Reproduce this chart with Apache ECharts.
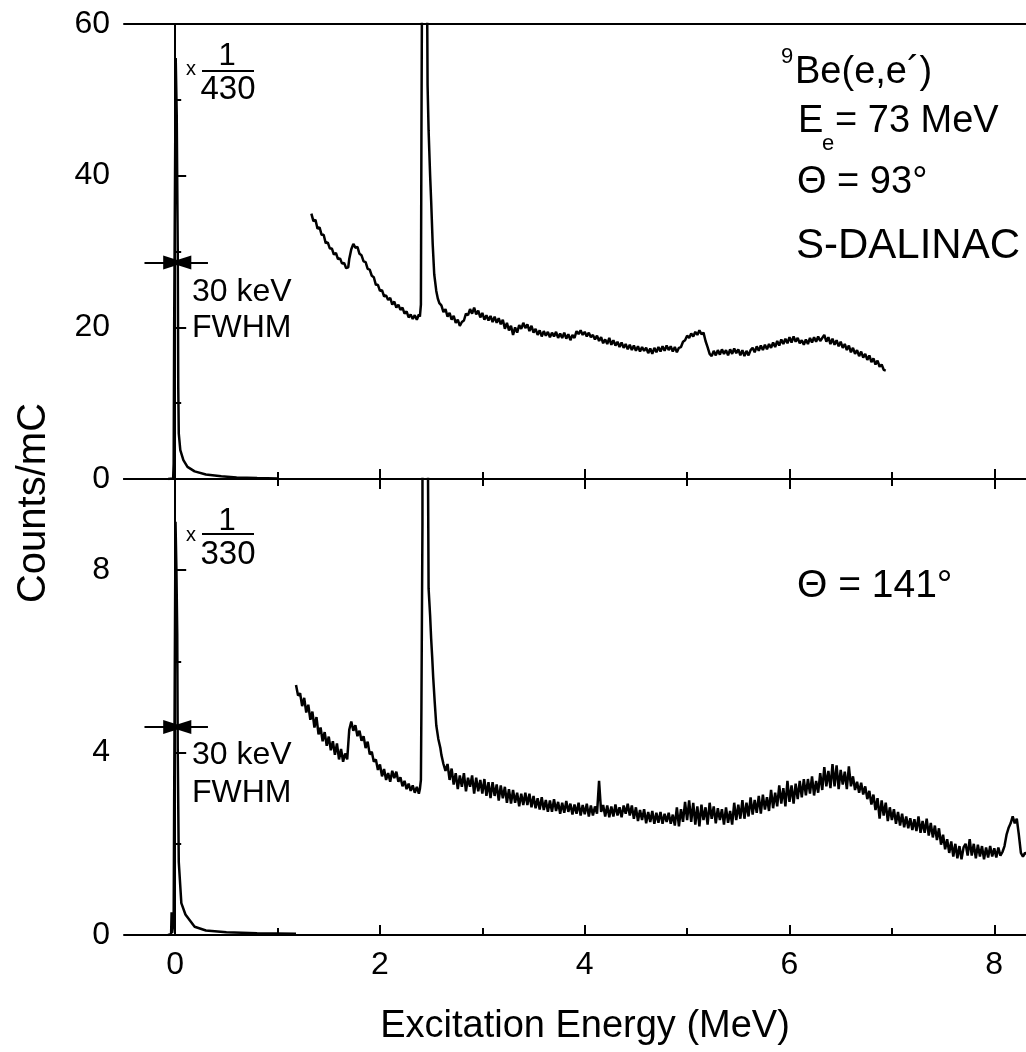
<!DOCTYPE html>
<html><head><meta charset="utf-8">
<script src="https://cdn.jsdelivr.net/npm/echarts@6/dist/echarts.min.js"></script>
<style>html,body{margin:0;padding:0;background:#fff}#c{width:1026px;height:1052px}</style>
</head><body><div id="c"></div>
<script>
// ---- data (Excitation energy MeV, Counts/mC) ----
const xMajorTicks = [0, 2, 4, 6, 8];
const xMinorTicks = [1, 3, 5, 7];
const yTopTicks = [0, 20, 40, 60];
const yBotTicks = [0, 4, 8];
const yBotMinor = [2, 6];

// elastic peak (scaled x 1/430), theta = 93 deg
const topPeak = [[-0.07,0],[-0.02,0.05],[-0.015,2],[-0.01,20],[0.005,55.5],[0.015,48],[0.025,30],[0.03,12],[0.035,6],[0.05,3.8],[0.08,2.5],[0.12,1.6],[0.19,1.0],[0.3,0.6],[0.45,0.35],[0.6,0.2],[0.8,0.12],[1.0,0.08]];

const topSpectrum = [[1.33,35.0],[1.35,34.0],[1.37,34.2],[1.39,33.0],[1.41,33.2],[1.43,32.2],[1.45,32.2],[1.47,31.1],[1.49,31.2],[1.51,30.4],[1.53,30.4],[1.55,29.6],[1.57,29.8],[1.59,29.0],[1.61,29.1],[1.63,28.4],[1.65,28.5],[1.67,27.8],[1.69,27.9],[1.70,29.0],[1.72,30.3],[1.74,31.0],[1.76,30.5],[1.78,30.6],[1.80,29.7],[1.82,29.5],[1.84,28.7],[1.86,28.6],[1.88,27.7],[1.90,27.6],[1.92,26.8],[1.94,26.6],[1.96,25.6],[1.98,25.6],[2.00,24.8],[2.02,24.9],[2.04,24.1],[2.06,24.2],[2.08,23.6],[2.10,23.9],[2.12,23.0],[2.14,23.4],[2.16,22.6],[2.18,23.0],[2.20,22.3],[2.22,22.6],[2.24,21.8],[2.26,22.1],[2.28,21.3],[2.30,21.7],[2.32,21.1],[2.34,21.6],[2.36,21.0],[2.38,21.7],[2.39,21.4],
[2.40,23],[2.405,45],[2.415,80],[2.43,300],[2.45,150],[2.458,70],[2.465,52],[2.475,46],[2.49,40],[2.50,36.7],[2.515,31],[2.53,27],[2.55,24.8],[2.565,23.8],[2.58,23.2],
[2.60,22.9],[2.62,22.0],[2.64,22.4],[2.66,21.4],[2.68,21.9],[2.70,21.0],[2.72,21.5],[2.74,20.6],[2.76,21.0],[2.78,20.2],[2.80,20.7],[2.82,20.9],[2.84,21.8],[2.86,21.6],[2.88,22.4],[2.90,21.8],[2.92,22.6],[2.94,21.7],[2.96,22.2],[2.98,21.3],[3.00,21.9],[3.02,21.0],[3.04,21.6],[3.06,20.9],[3.08,21.5],[3.10,20.7],[3.12,21.4],[3.14,20.6],[3.16,21.2],[3.18,20.4],[3.20,21.0],[3.22,19.8],[3.24,20.6],[3.26,19.6],[3.28,20.2],[3.30,19.0],[3.32,20.0],[3.34,19.3],[3.36,20.3],[3.38,19.8],[3.40,20.6],[3.42,19.9],[3.44,20.4],[3.46,19.5],[3.48,20.2],[3.50,19.3],[3.52,19.8],[3.54,19.0],[3.56,19.6],[3.58,18.8],[3.60,19.5],[3.62,18.9],[3.64,19.4],[3.66,18.7],[3.68,19.3],[3.70,18.8],[3.72,19.4],[3.74,18.6],[3.76,19.2],[3.78,18.6],[3.80,19.3],[3.82,18.5],[3.84,19.1],[3.86,18.3],[3.88,19.0],[3.90,18.6],[3.92,19.5],[3.94,19.1],[3.96,19.6],[3.98,19.0],[4.00,19.4],[4.02,18.8],[4.04,19.3],[4.06,18.7],[4.08,19.0],[4.10,18.4],[4.12,18.9],[4.14,18.2],[4.16,18.7],[4.18,17.9],[4.20,18.4],[4.22,17.8],[4.24,18.6],[4.26,17.7],[4.28,18.3],[4.30,17.6],[4.32,18.1],[4.34,17.4],[4.36,18.0],[4.38,17.3],[4.40,17.8],[4.42,17.1],[4.44,17.7],[4.46,17.0],[4.48,17.6],[4.50,16.9],[4.52,17.5],[4.54,16.8],[4.56,17.4],[4.58,16.9],[4.60,17.3],[4.62,16.6],[4.64,17.2],[4.66,16.5],[4.68,17.3],[4.70,16.7],[4.72,17.4],[4.74,16.8],[4.76,17.5],[4.78,16.9],[4.80,17.6],[4.82,17.0],[4.84,17.5],[4.86,16.8],[4.88,17.4],[4.90,16.7],[4.92,17.3],[4.94,17.4],[4.96,18.1],[4.98,18.3],[5.00,18.9],[5.02,18.6],[5.04,19.2],[5.06,18.8],[5.08,19.4],[5.10,19.0],[5.12,19.6],[5.14,19.1],[5.16,19.3],[5.18,18.2],[5.20,17.4],[5.22,16.5],[5.24,16.2],[5.26,16.9],[5.28,16.3],[5.30,17.0],[5.32,16.4],[5.34,17.1],[5.36,16.5],[5.38,17.0],[5.40,16.3],[5.42,17.1],[5.44,16.5],[5.46,17.2],[5.48,16.6],[5.50,17.1],[5.52,16.3],[5.54,17.0],[5.56,16.2],[5.58,16.9],[5.60,16.3],[5.62,17.0],[5.64,17.3],[5.66,16.7],[5.68,17.5],[5.70,16.9],[5.72,17.6],[5.74,17.0],[5.76,17.7],[5.78,17.1],[5.80,17.8],[5.82,17.3],[5.84,18.0],[5.86,17.4],[5.88,18.2],[5.90,17.6],[5.92,18.4],[5.94,17.8],[5.96,18.5],[5.98,17.9],[6.00,18.7],[6.02,18.0],[6.04,18.8],[6.06,18.1],[6.08,18.6],[6.10,17.9],[6.12,18.3],[6.14,17.7],[6.16,18.4],[6.18,17.8],[6.20,18.6],[6.22,18.0],[6.24,18.7],[6.26,18.1],[6.28,18.8],[6.30,18.2],[6.32,18.6],[6.34,19.0],[6.36,18.1],[6.38,18.7],[6.40,17.8],[6.42,18.5],[6.44,17.7],[6.46,18.3],[6.48,17.5],[6.50,18.1],[6.52,17.3],[6.54,17.8],[6.56,17.0],[6.58,17.6],[6.60,16.7],[6.62,17.3],[6.64,16.5],[6.66,17.0],[6.68,16.2],[6.70,16.8],[6.72,16.0],[6.74,16.5],[6.76,15.7],[6.78,16.3],[6.80,15.4],[6.82,15.9],[6.84,15.1],[6.86,15.6],[6.88,14.8],[6.90,15.1],[6.92,14.4],[6.94,14.3]];

// elastic peak (scaled x 1/330), theta = 141 deg
const botPeak = [[-0.07,0],[-0.04,0.02],[-0.035,0.5],[-0.03,0.05],[-0.015,0.3],[-0.01,3],[0.003,9.06],[0.012,8],[0.02,6.6],[0.025,4],[0.035,1.6],[0.06,0.7],[0.1,0.45],[0.19,0.18],[0.3,0.1],[0.5,0.06],[0.8,0.04],[1.18,0.03]];

const botSpectrum = [[1.18,5.48],[1.20,5.25],[1.22,5.3],[1.24,5.02],[1.26,5.2],[1.28,4.88],[1.30,5.05],[1.32,4.72],[1.34,4.9],[1.36,4.55],[1.38,4.78],[1.40,4.4],[1.42,4.55],[1.44,4.25],[1.46,4.45],[1.48,4.15],[1.50,4.35],[1.52,4.05],[1.54,4.25],[1.56,3.95],[1.58,4.2],[1.60,3.85],[1.62,4.08],[1.64,3.8],[1.66,3.98],[1.68,3.85],[1.70,4.5],[1.72,4.68],[1.74,4.48],[1.76,4.6],[1.78,4.36],[1.80,4.48],[1.82,4.26],[1.84,4.36],[1.86,4.1],[1.88,4.24],[1.90,3.96],[1.92,4.02],[1.94,3.8],[1.96,3.85],[1.98,3.62],[2.00,3.74],[2.02,3.48],[2.04,3.64],[2.06,3.4],[2.08,3.55],[2.10,3.36],[2.12,3.6],[2.14,3.44],[2.16,3.58],[2.18,3.36],[2.20,3.46],[2.22,3.26],[2.24,3.38],[2.26,3.2],[2.28,3.32],[2.30,3.16],[2.32,3.28],[2.34,3.12],[2.36,3.25],[2.38,3.1],[2.39,3.2],
[2.40,3.4],[2.405,5.0],[2.415,9],[2.43,60],[2.45,30],[2.465,12],[2.475,7.6],[2.49,7.0],[2.50,6.5],[2.51,6.1],[2.52,5.65],[2.535,5.1],[2.55,4.6],[2.57,4.3],[2.59,4.1],
[2.60,3.95],[2.62,3.75],[2.64,3.6],[2.66,3.75],[2.68,3.4],[2.70,3.65],[2.72,3.3],[2.74,3.55],[2.76,3.2],[2.78,3.5],[2.80,3.25],[2.82,3.55],[2.84,3.15],[2.86,3.45],[2.88,3.25],[2.90,3.5],[2.92,3.1],[2.94,3.45],[2.96,3.15],[2.98,3.4],[3.00,3.1],[3.02,3.42],[3.04,3.05],[3.06,3.35],[3.08,3.0],[3.10,3.35],[3.12,3.05],[3.14,3.3],[3.16,2.95],[3.18,3.28],[3.20,3.0],[3.22,3.25],[3.24,2.9],[3.26,3.2],[3.28,2.88],[3.30,3.18],[3.32,2.9],[3.34,3.12],[3.36,2.82],[3.38,3.1],[3.40,2.85],[3.42,3.12],[3.44,2.85],[3.46,3.1],[3.48,2.8],[3.50,3.05],[3.52,2.78],[3.54,3.0],[3.56,2.75],[3.58,3.02],[3.60,2.74],[3.62,2.96],[3.64,2.7],[3.66,2.95],[3.68,2.7],[3.70,2.98],[3.72,2.72],[3.74,2.92],[3.76,2.66],[3.78,2.9],[3.80,2.68],[3.82,2.94],[3.84,2.7],[3.86,2.88],[3.88,2.64],[3.90,2.86],[3.92,2.66],[3.94,2.9],[3.96,2.62],[3.98,2.85],[4.00,2.65],[4.02,2.88],[4.04,2.6],[4.06,2.84],[4.08,2.62],[4.10,2.82],[4.12,2.66],[4.14,3.38],[4.16,2.7],[4.18,2.85],[4.20,2.6],[4.22,2.84],[4.24,2.58],[4.26,2.82],[4.28,2.6],[4.30,2.86],[4.32,2.62],[4.34,2.8],[4.36,2.58],[4.38,2.84],[4.40,2.66],[4.42,2.88],[4.44,2.62],[4.46,2.84],[4.48,2.55],[4.50,2.8],[4.52,2.5],[4.54,2.74],[4.56,2.52],[4.58,2.76],[4.60,2.45],[4.62,2.7],[4.64,2.48],[4.66,2.72],[4.68,2.44],[4.70,2.68],[4.72,2.46],[4.74,2.7],[4.76,2.44],[4.78,2.66],[4.80,2.48],[4.82,2.68],[4.84,2.44],[4.86,2.64],[4.88,2.4],[4.90,2.8],[4.92,2.38],[4.94,2.76],[4.96,2.48],[4.98,2.92],[5.00,2.52],[5.02,2.95],[5.04,2.48],[5.06,2.9],[5.08,2.42],[5.10,2.82],[5.12,2.38],[5.14,2.86],[5.16,2.52],[5.18,2.8],[5.20,2.42],[5.22,2.9],[5.24,2.55],[5.26,2.82],[5.28,2.45],[5.30,2.78],[5.32,2.52],[5.34,2.76],[5.36,2.42],[5.38,2.8],[5.40,2.46],[5.42,2.72],[5.44,2.42],[5.46,2.9],[5.48,2.52],[5.50,2.86],[5.52,2.55],[5.54,2.96],[5.56,2.55],[5.58,2.9],[5.60,2.6],[5.62,3.02],[5.64,2.64],[5.66,2.96],[5.68,2.68],[5.70,3.05],[5.72,2.66],[5.74,3.08],[5.76,2.75],[5.78,3.02],[5.80,2.72],[5.82,3.18],[5.84,2.78],[5.86,3.12],[5.88,2.82],[5.90,3.28],[5.92,2.88],[5.94,3.22],[5.96,2.82],[5.98,3.38],[6.00,2.92],[6.02,3.28],[6.04,2.88],[6.06,3.32],[6.08,2.98],[6.10,3.38],[6.12,3.02],[6.14,3.42],[6.16,3.06],[6.18,3.42],[6.20,3.1],[6.22,3.48],[6.24,3.06],[6.26,3.38],[6.28,3.12],[6.30,3.55],[6.32,3.18],[6.34,3.68],[6.36,3.26],[6.38,3.6],[6.40,3.22],[6.42,3.75],[6.44,3.26],[6.46,3.72],[6.48,3.2],[6.50,3.62],[6.52,3.3],[6.54,3.58],[6.56,3.2],[6.58,3.7],[6.60,3.26],[6.62,3.48],[6.64,3.18],[6.66,3.36],[6.68,3.12],[6.70,3.34],[6.72,3.08],[6.74,3.26],[6.76,2.98],[6.78,3.16],[6.80,2.86],[6.82,3.08],[6.84,2.74],[6.86,3.0],[6.88,2.55],[6.90,2.95],[6.92,2.62],[6.94,2.9],[6.96,2.5],[6.98,2.8],[7.00,2.52],[7.02,2.76],[7.04,2.44],[7.06,2.7],[7.08,2.4],[7.10,2.66],[7.12,2.36],[7.14,2.6],[7.16,2.34],[7.18,2.56],[7.20,2.3],[7.22,2.54],[7.24,2.28],[7.26,2.6],[7.28,2.24],[7.30,2.5],[7.32,2.24],[7.34,2.55],[7.36,2.18],[7.38,2.46],[7.40,2.14],[7.42,2.4],[7.44,2.08],[7.46,2.34],[7.48,1.98],[7.50,2.2],[7.52,1.88],[7.54,2.1],[7.56,1.8],[7.58,2.05],[7.60,1.72],[7.62,2.0],[7.64,1.68],[7.66,1.95],[7.68,1.66],[7.70,1.92],[7.72,2.0],[7.74,1.74],[7.76,2.1],[7.78,1.74],[7.80,2.0],[7.82,1.68],[7.84,1.98],[7.86,1.72],[7.88,1.95],[7.90,1.66],[7.92,1.92],[7.94,1.7],[7.96,1.95],[7.98,1.72],[8.00,1.9],[8.02,1.7],[8.04,1.92],[8.06,1.74],[8.08,1.82],[8.10,1.95],[8.12,2.2],[8.14,2.35],[8.16,2.45],[8.18,2.6],[8.20,2.45],[8.22,2.55],[8.24,2.2],[8.26,1.8],[8.28,1.72],[8.30,1.8],[8.32,1.78]];

// FWHM arrows (data coordinates)
const topArrowY = 28.55, botArrowY = 4.56;

// ---- chart ----
const FONT = '"Liberation Sans", Arial, Helvetica, sans-serif';
const X_MIN = -0.5, X_MAX = 8.31;
const G_TOP = {left: 124, top: 24, width: 902, height: 455};
const G_BOT = {left: 124, top: 479, width: 902, height: 456};
const axisLine = {show: true, lineStyle: {color: '#000', width: 2}};
const noLabel = {show: false};
const lbl = {color: '#000', fontSize: 32, fontFamily: FONT};
const tickStyle = {color: '#000', width: 2};

function xAx(grid, pos, opt) {
  return Object.assign({type: 'value', gridIndex: grid, position: pos, min: X_MIN, max: X_MAX,
    splitLine: {show: false}, axisLabel: noLabel, axisTick: {show: false}, axisLine: {show: false}}, opt);
}
function arrowLine(y, x0, x1) {
  return [{coord: [x0, y]}, {coord: [x1, y]}];
}
const arrowMark = (y) => ({
  silent: true, symbol: ['none', 'triangle'], symbolSize: [14, 22], symbolOffset: [0, 0],
  label: {show: false}, lineStyle: {color: '#000', width: 2, type: 'solid'},
  itemStyle: {color: '#000'}, emphasis: {disabled: true}, animation: false,
  data: [arrowLine(y, -0.30, -0.01), arrowLine(y, 0.32, 0.05)]
});

const lineSeries = (data, xi, yi, extra) => Object.assign({
  type: 'line', data: data, xAxisIndex: xi, yAxisIndex: yi, showSymbol: false, symbol: 'none',
  lineStyle: {color: '#000', width: 2.5}, animation: false, clip: true, silent: true
}, extra || {});

const txt = (t, x, y, size, extra) => ({
  type: 'text', x: x, y: y, silent: true, z: 100,
  style: Object.assign({text: t, fill: '#000', font: size + 'px ' + FONT,
    textAlign: 'left', textVerticalAlign: 'middle', align: 'left', verticalAlign: 'middle'}, extra || {})
});
const bar = (x1, x2, y) => ({type: 'line', silent: true, z: 100,
  shape: {x1: x1, y1: y, x2: x2, y2: y}, style: {stroke: '#000', lineWidth: 2}});
const ctr = {textAlign: 'center', align: 'center'};

const option = {
  backgroundColor: '#fff',
  animation: false,
  grid: [G_TOP, G_BOT, G_TOP, G_BOT],
  xAxis: [
    xAx(0, 'bottom', {axisLine: axisLine, axisTick: {show: true, inside: true, length: 10, lineStyle: tickStyle, customValues: xMajorTicks}}),
    xAx(0, 'top', {axisLine: axisLine}),
    xAx(1, 'bottom', {axisLine: axisLine, axisTick: {show: true, inside: true, length: 10, lineStyle: tickStyle, customValues: xMajorTicks},
      axisLabel: Object.assign({show: true, margin: 14, customValues: xMajorTicks}, lbl)}),
    xAx(1, 'top', {axisLine: axisLine, axisTick: {show: true, inside: true, length: 10, lineStyle: tickStyle, customValues: xMajorTicks}}),
    xAx(2, 'bottom', {axisTick: {show: true, inside: true, length: 7, lineStyle: tickStyle, customValues: xMinorTicks}}),
    xAx(3, 'bottom', {axisTick: {show: true, inside: true, length: 7, lineStyle: tickStyle, customValues: xMinorTicks}}),
    xAx(3, 'top', {axisTick: {show: true, inside: true, length: 7, lineStyle: tickStyle, customValues: xMinorTicks}})
  ],
  yAxis: [
    {type: 'value', gridIndex: 0, min: 0, max: 60, interval: 20, splitLine: {show: false}, axisLine: axisLine,
      axisTick: {show: true, inside: true, length: 11, lineStyle: tickStyle},
      minorTick: {show: true, splitNumber: 2, length: 6, lineStyle: tickStyle},
      axisLabel: Object.assign({margin: 14, customValues: yTopTicks}, lbl)},
    {type: 'value', gridIndex: 1, min: 0, max: 10, splitLine: {show: false}, axisLine: axisLine,
      axisTick: {show: true, inside: true, length: 11, lineStyle: tickStyle, customValues: yBotTicks},
      axisLabel: Object.assign({margin: 14, customValues: yBotTicks}, lbl)},
    {type: 'value', gridIndex: 2, min: 0, max: 60, show: false},
    {type: 'value', gridIndex: 3, min: 0, max: 10, splitLine: {show: false}, axisLine: {show: false}, axisLabel: noLabel,
      axisTick: {show: true, inside: true, length: 6, lineStyle: tickStyle, customValues: yBotMinor}}
  ],
  series: [
    lineSeries(topPeak, 0, 0, {markLine: arrowMark(topArrowY)}),
    lineSeries(topSpectrum, 0, 0),
    lineSeries(botPeak, 2, 1, {markLine: arrowMark(botArrowY)}),
    lineSeries(botSpectrum, 2, 1)
  ],
  graphic: [
    // x 1/430
    txt('x', 186, 69, 20),
    txt('1', 227, 56, 31, ctr),
    bar(202, 254, 71),
    txt('430', 228, 90, 33, ctr),
    txt('30 keV', 192, 292, 32),
    txt('FWHM', 192, 328, 32),
    // x 1/330
    txt('x', 186, 535, 20),
    txt('1', 227, 521, 31, ctr),
    bar(202, 254, 534),
    txt('330', 228, 555, 33, ctr),
    txt('30 keV', 192, 755, 32),
    txt('FWHM', 192, 793, 32),
    // header text
    txt('9', 781, 57, 22),
    txt('Be(e,e\u00B4)', 795, 73, 38),
    txt('E', 798, 122, 38),
    txt('e', 822, 144, 22),
    txt('= 73 MeV', 835, 122, 38),
    txt('\u0398 = 93\u00B0', 797, 183, 38),
    txt('S-DALINAC', 796, 246, 42),
    txt('\u0398 = 141\u00B0', 797, 586, 39),
    // axis titles
    {type: 'text', x: 34, y: 503, rotation: Math.PI / 2, silent: true,
      style: {text: 'Counts/mC', fill: '#000', font: '40px ' + FONT, textAlign: 'center', textVerticalAlign: 'middle', align: 'center', verticalAlign: 'middle'}},
    txt('Excitation Energy (MeV)', 585, 1027, 38, ctr)
  ]
};
const chart = echarts.init(document.getElementById('c'), null, {renderer: 'canvas'});
chart.setOption(option);
</script></body></html>
